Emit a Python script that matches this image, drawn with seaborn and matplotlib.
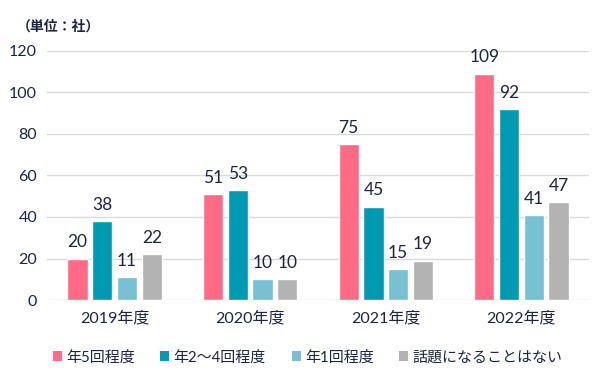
import matplotlib
matplotlib.use("Agg")
import matplotlib.pyplot as plt
import seaborn as sns
import pandas as pd
from matplotlib.patches import Patch

years = ["2019年度", "2020年度", "2021年度", "2022年度"]
series = ["年5回程度", "年2～4回程度", "年1回程度", "話題になることはない"]
v5 = [20, 51, 75, 109]
v24 = [38, 53, 45, 92]
v1 = [11, 10, 15, 41]
vnone = [22, 10, 19, 47]
colors = ["#FF6B84", "#009AB3", "#78C0D4", "#B3B3B3"]

rows = []
for s, vals in zip(series, [v5, v24, v1, vnone]):
    for y, v in zip(years, vals):
        rows.append({"year": y, "series": s, "value": v})
df = pd.DataFrame(rows)

sns.set_theme(style="white")
plt.rcParams["font.family"] = ["Lato", "Noto Sans CJK JP", "DejaVu Sans"]
text_color = "#1B2442"

fig = plt.figure(figsize=(6, 3.75), dpi=100)
ax = fig.add_axes([0.078, 0.2, 0.904, 0.664])
sns.barplot(data=df, x="year", y="value", hue="series", palette=colors,
            width=0.73, gap=0.18, ax=ax, legend=False, saturation=1)

for cont in ax.containers:
    ax.bar_label(cont, padding=6, fontsize=12.5, color=text_color)

ax.set_ylim(0, 120)
ax.set_yticks(range(0, 121, 20))
ax.grid(axis="y", color="#DADADA", linewidth=1)
ax.set_axisbelow(True)
for s in ax.spines.values():
    s.set_visible(False)
ax.tick_params(axis="both", length=0, colors=text_color, labelsize=11.5)
ax.tick_params(axis="y", pad=7)
ax.tick_params(axis="x", pad=8)
ax.set_xlabel("")
ax.set_ylabel("")
ax.set_xlim(-0.5, 3.5)

fig.text(0.028, 0.93, "（単位：社）", fontsize=10, color=text_color, fontweight="bold", ha="left", va="center")

handles = [Patch(facecolor=c, edgecolor="none") for c in colors]
leg = fig.legend(handles, series, loc="center left", bbox_to_anchor=(0.065, 0.047), ncol=4,
                 frameon=False, fontsize=10.8, handlelength=0.6, handleheight=0.6,
                 handletextpad=0.3, columnspacing=1.7, labelcolor=text_color)

fig.savefig("out.png", dpi=100)
